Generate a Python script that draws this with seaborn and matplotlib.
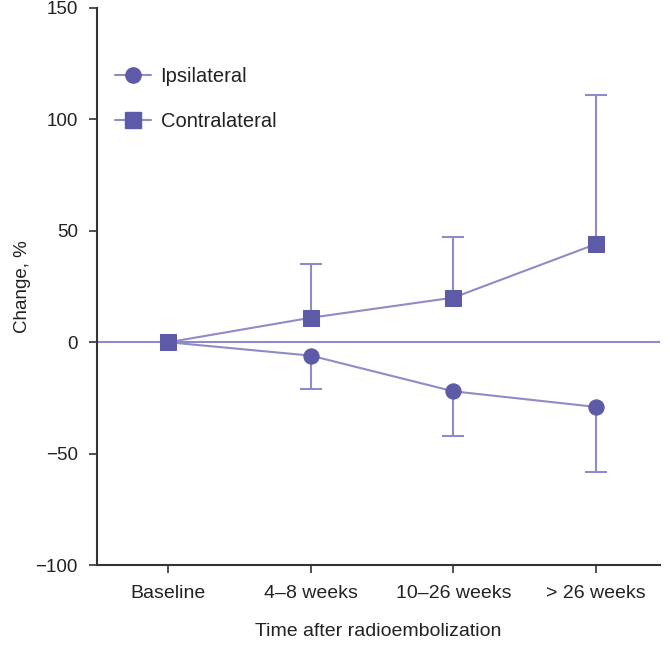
import matplotlib
matplotlib.use("Agg")
import matplotlib.pyplot as plt
import seaborn as sns
import pandas as pd
import numpy as np
from matplotlib.lines import Line2D

categories = ["Baseline", "4\u20138 weeks", "10\u201326 weeks", "> 26 weeks"]
ipsi_mean = [0, -6, -22, -29]
ipsi_lower = [0, -21, -42, -58]
contra_mean = [0, 11, 20, 44]
contra_upper = [0, 35, 47, 111]
series_names = ["Ipsilateral", "Contralateral"]

sns.set_style("white")
plt.rcParams['font.family'] = ['Liberation Sans', 'DejaVu Sans']

line_c = "#8d8bc8"
mark_c = "#5d5aa8"
text_c = "#222222"

df = pd.DataFrame({
    "x": list(range(len(categories))) * 2,
    "y": ipsi_mean + contra_mean,
    "series": [series_names[0]] * len(categories) + [series_names[1]] * len(categories),
})

fig = plt.figure(figsize=(6.70, 6.46), dpi=100)
ax = fig.add_axes([0.145, 0.125, 0.840, 0.863])

ax.axhline(0, color=line_c, lw=1.5, zorder=1)

x = np.arange(len(categories))
# one-sided error bars (hide cap at the mean side)
eb = ax.errorbar(x[1:], ipsi_mean[1:],
                 yerr=[np.array(ipsi_mean[1:]) - np.array(ipsi_lower[1:]), np.zeros(3)],
                 fmt="none", ecolor=line_c, elinewidth=1.5, capsize=8, capthick=1.5, zorder=2)
eb[1][1].set_visible(False)
eb = ax.errorbar(x[1:], contra_mean[1:],
                 yerr=[np.zeros(3), np.array(contra_upper[1:]) - np.array(contra_mean[1:])],
                 fmt="none", ecolor=line_c, elinewidth=1.5, capsize=8, capthick=1.5, zorder=2)
eb[1][0].set_visible(False)

sns.lineplot(data=df, x="x", y="y", hue="series", style="series",
             palette={series_names[0]: line_c, series_names[1]: line_c},
             markers={series_names[0]: "o", series_names[1]: "s"},
             dashes=False, lw=1.5, markersize=11, markeredgecolor=mark_c,
             markerfacecolor=mark_c, ax=ax, zorder=3, legend=False)

handles = [Line2D([], [], color=line_c, lw=1.5, marker="o", markersize=11,
                  markerfacecolor=mark_c, markeredgecolor=mark_c),
           Line2D([], [], color=line_c, lw=1.5, marker="s", markersize=11,
                  markerfacecolor=mark_c, markeredgecolor=mark_c)]
ax.legend(handles, series_names, loc="upper left", bbox_to_anchor=(0.0, 0.927),
          frameon=False, fontsize=14.5, handlelength=1.75, handletextpad=0.5,
          labelspacing=1.3, labelcolor=text_c)

ax.set_xlim(-0.5, 3.45)
ax.set_ylim(-100, 150)
ax.set_yticks([-100, -50, 0, 50, 100, 150])
ax.set_yticklabels(["\u2212100", "\u221250", "0", "50", "100", "150"])
ax.set_xticks(x)
ax.set_xticklabels(categories)
ax.tick_params(axis="both", length=6, width=1.2, colors="#333333",
               labelcolor=text_c, direction="out", left=True, bottom=True, pad=8)
ax.tick_params(axis="x", labelsize=14)
ax.tick_params(axis="y", labelsize=13.5)
ax.set_xlabel("Time after radioembolization", fontsize=14, labelpad=15, color=text_c)
ax.set_ylabel("Change, %", fontsize=13.5, labelpad=3, color=text_c)

for s in ["top", "right"]:
    ax.spines[s].set_visible(False)
for s in ["left", "bottom"]:
    ax.spines[s].set_color("#333333")
    ax.spines[s].set_linewidth(1.5)

fig.savefig("out.png", dpi=100)
